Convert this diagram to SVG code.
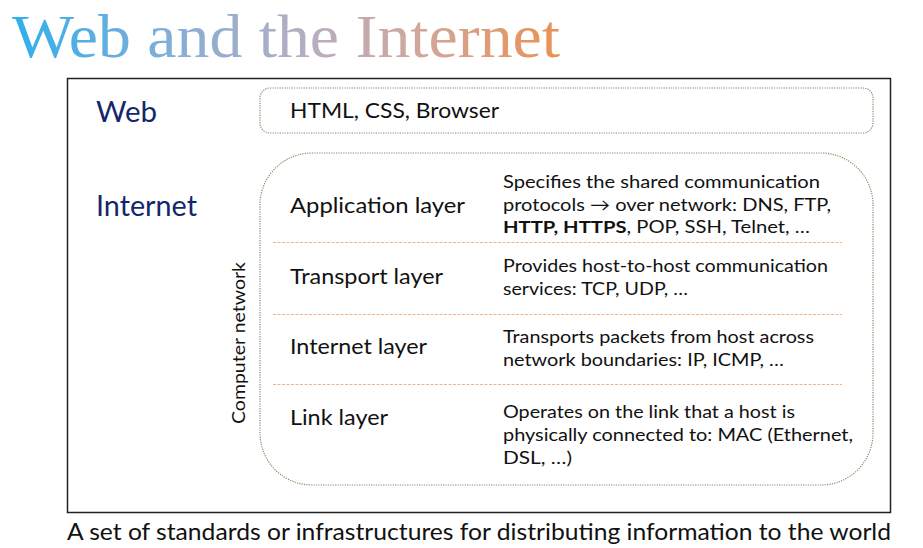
<svg xmlns="http://www.w3.org/2000/svg" width="923" height="548" viewBox="0 0 923 548">
  <defs>
    <linearGradient id="titleGrad" gradientUnits="userSpaceOnUse" x1="12" y1="0" x2="560" y2="0">
      <stop offset="0" stop-color="#2fb0ea"/>
      <stop offset="0.3" stop-color="#86aed6"/>
      <stop offset="0.55" stop-color="#b8aebf"/>
      <stop offset="0.75" stop-color="#d2a69a"/>
      <stop offset="1" stop-color="#ea9152"/>
    </linearGradient>
  </defs>
  <style>
    .sans { font-family: "Lato", "Noto Sans", "Liberation Sans", sans-serif; fill: #111; }
    .side { font-family: "Lato", "Noto Sans", sans-serif; fill: #14276a; font-size: 28px; }
    .layer { font-size: 21.5px; }
    .desc { font-size: 17.5px; }
    .group { fill: none; stroke: #8c8a66; stroke-width: 1.2; stroke-dasharray: 1.2 1.2; }
    .sep { stroke: #f0b487; stroke-width: 1; stroke-dasharray: 3 1.5; }
  </style>

  <rect width="923" height="548" fill="#fff"/>

  <!-- title -->
  <text x="12" y="57" font-family="Liberation Serif, serif" font-size="61" fill="url(#titleGrad)" textLength="548" lengthAdjust="spacingAndGlyphs">Web and the Internet</text>

  <!-- outer frame -->
  <rect id="frame" x="67.5" y="78.5" width="823" height="434" fill="none" stroke="#222" stroke-width="1.5"/>

  <g id="web">
    <text class="side" x="96" y="122" textLength="61" lengthAdjust="spacingAndGlyphs">Web</text>
    <rect class="group" x="260" y="88" width="613" height="45" rx="10"/>
    <text class="sans" x="290" y="118" font-size="21" textLength="209" lengthAdjust="spacingAndGlyphs">HTML, CSS, Browser</text>
  </g>

  <g id="internet">
    <text class="side" x="96" y="216" textLength="101" lengthAdjust="spacingAndGlyphs">Internet</text>
    <rect class="group" x="260" y="153" width="613" height="332" rx="52"/>
    <text class="sans" font-size="17.5" transform="translate(245 343) rotate(-90)" text-anchor="middle" textLength="162" lengthAdjust="spacingAndGlyphs">Computer network</text>
  </g>

  <g id="connectors">
    <line class="sep" x1="273" y1="242.5" x2="842" y2="242.5"/>
    <line class="sep" x1="273" y1="314.5" x2="842" y2="314.5"/>
    <line class="sep" x1="273" y1="384.5" x2="842" y2="384.5"/>
  </g>

  <g id="application">
    <text class="sans layer" x="290" y="213" textLength="175" lengthAdjust="spacingAndGlyphs">Application layer</text>
    <text class="sans desc" x="503" y="188" textLength="317" lengthAdjust="spacingAndGlyphs">Specifies the shared communication</text>
    <text class="sans desc" x="503" y="211" textLength="328" lengthAdjust="spacingAndGlyphs">protocols → over network: DNS, FTP,</text>
    <text class="sans desc" x="503" y="233" textLength="307" lengthAdjust="spacingAndGlyphs"><tspan font-weight="bold">HTTP, HTTPS</tspan>, POP, SSH, Telnet, …</text>
  </g>

  <g id="transport">
    <text class="sans layer" x="290" y="284" textLength="153" lengthAdjust="spacingAndGlyphs">Transport layer</text>
    <text class="sans desc" x="503" y="272" textLength="325" lengthAdjust="spacingAndGlyphs">Provides host-to-host communication</text>
    <text class="sans desc" x="503" y="295" textLength="185" lengthAdjust="spacingAndGlyphs">services: TCP, UDP, …</text>
  </g>

  <g id="internet-layer">
    <text class="sans layer" x="290" y="354" textLength="137" lengthAdjust="spacingAndGlyphs">Internet layer</text>
    <text class="sans desc" x="503" y="343" textLength="311" lengthAdjust="spacingAndGlyphs">Transports packets from host across</text>
    <text class="sans desc" x="503" y="366" textLength="281" lengthAdjust="spacingAndGlyphs">network boundaries: IP, ICMP, …</text>
  </g>

  <g id="link">
    <text class="sans layer" x="290" y="425" textLength="98" lengthAdjust="spacingAndGlyphs">Link layer</text>
    <text class="sans desc" x="503" y="418" textLength="292" lengthAdjust="spacingAndGlyphs">Operates on the link that a host is</text>
    <text class="sans desc" x="503" y="441" textLength="350" lengthAdjust="spacingAndGlyphs">physically connected to: MAC (Ethernet,</text>
    <text class="sans desc" x="503" y="464" textLength="69" lengthAdjust="spacingAndGlyphs">DSL, …)</text>
  </g>

  <!-- caption -->
  <text class="sans" x="67" y="540" font-size="24" textLength="824" lengthAdjust="spacingAndGlyphs">A set of standards or infrastructures for distributing information to the world</text>
</svg>
